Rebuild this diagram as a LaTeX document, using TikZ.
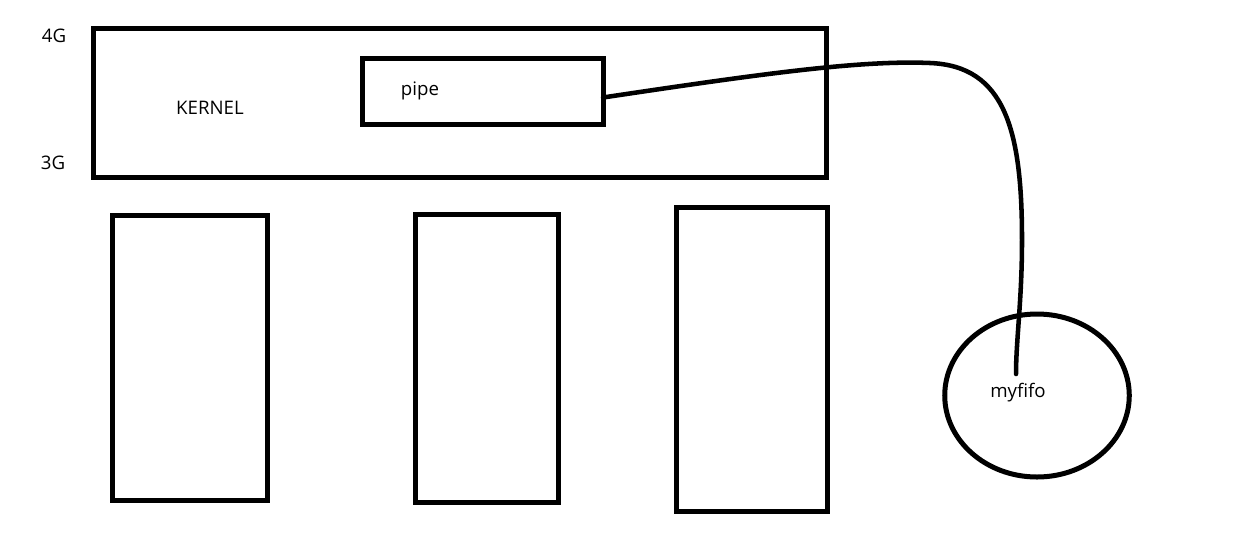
\documentclass[tikz,border=0pt]{standalone}
\usepackage{fontspec}
\setsansfont{Open Sans}
\usetikzlibrary{shapes.geometric}
\tikzset{
  box/.style={draw,line width=3.75pt,inner sep=0pt,outer sep=0pt},
  lbl/.style={font=\sffamily\fontsize{14}{16}\selectfont,inner sep=0pt}
}
\begin{document}
\begin{tikzpicture}[x=0.75pt,y=-0.75pt]
      \useasboundingbox (0,0) rectangle (1244,536);
      \draw
        (459.75,103.25) node[box,minimum width=549.4pt,minimum height=112.1pt] (k){}
        (482.5,91.5) node[box,minimum width=180.75pt,minimum height=49.5pt] (p){}
        (190,358) node[box,minimum width=116.25pt,minimum height=213.75pt] (a){}
        (487,358.5) node[box,minimum width=107.25pt,minimum height=216pt] (b){}
        (751.75,359) node[box,minimum width=113.6pt,minimum height=228pt] (c){}
        (1037,395.5) node[box,ellipse,minimum width=138.4pt,minimum height=122.25pt] (f){};
      \draw
        (54,36) node[lbl] (4g){4G}
        (53,163) node[lbl] (3g){3G}
        (210,108) node[lbl] (kl){KERNEL}
        (420,91) node[lbl] (pl){pipe}
        (1018,393) node[lbl] (fl){myfifo};
      \coordinate (e) at (1016,374);
      \begin{scope}[line width=3.4pt,line cap=round]
        \draw ([yshift=-4.5pt]p.east) .. controls (760,74) and (860,60) .. (930,63)
          .. controls (1005,66) and (1022,130) .. (1022,240)
          .. controls (1022,300) and (1016,340) .. (e);
      \end{scope}
    \end{tikzpicture}
\end{document}
